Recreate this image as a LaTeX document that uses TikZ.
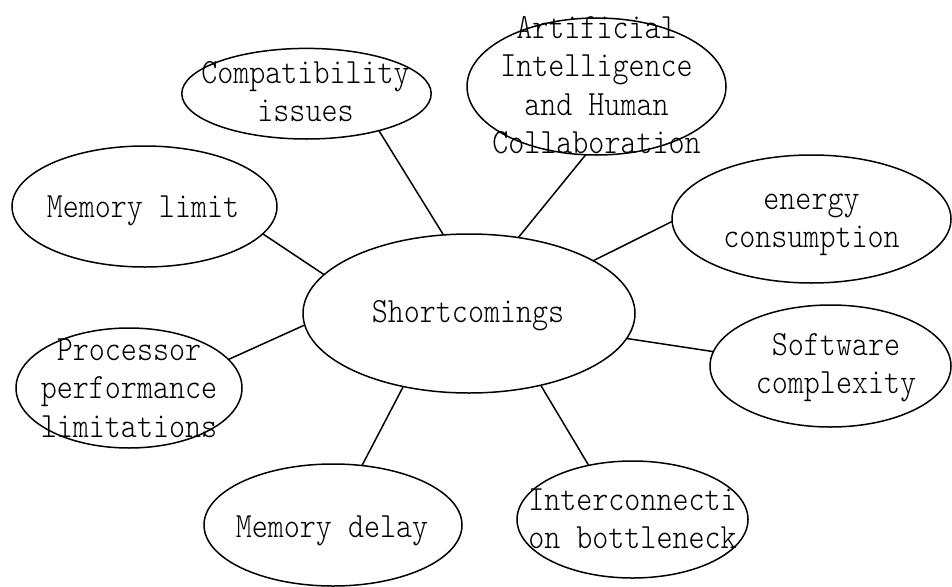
\documentclass[tikz,border=0pt]{standalone}
\usepackage{fontspec}
\usetikzlibrary{shapes.geometric}
% narrow, light monospaced face for the captions
\newfontfamily\labfont[FakeStretch=0.86]{lmmonolt10-regular.otf}
\begin{document}
\begin{tikzpicture}[x=1pt,y=-1pt,
  bubble/.style={ellipse, draw, line width=1.5pt, inner sep=0pt, outer sep=0pt},
  caption/.style={anchor=base, inner sep=0pt, font=\labfont\fontsize{35.5}{38.5}\selectfont},
  link/.style={line width=1.5pt}]
\useasboundingbox (0,0) rectangle (952,586);

% central topic
\node[bubble, minimum width=332pt, minimum height=159pt] (main) at (469,313.5) {};
\node[caption] (main-t) at (468,322) {Shortcomings};

% surrounding topics
\node[bubble, minimum width=249.4pt, minimum height=90.6pt] (compat) at (306.5,93.7) {};
\node[caption] (compat-t) at (305.5,83) {\begin{tabular}[t]{@{}c@{}}Compatibility\\issues\end{tabular}};

\node[bubble, minimum width=259pt, minimum height=137pt] (ai) at (596.5,86.5) {};
\node[caption] (ai-t) at (596.5,38) {\begin{tabular}[t]{@{}c@{}}Artificial\\Intelligence\\and Human\\Collaboration\end{tabular}};

\node[bubble, minimum width=265pt, minimum height=121pt] (mlimit) at (144.5,206.5) {};
\node[caption] (mlimit-t) at (143,217) {Memory limit};

\node[bubble, minimum width=279pt, minimum height=128pt] (energy) at (811.5,219) {};
\node[caption] (energy-t) at (811.5,209) {\begin{tabular}[t]{@{}c@{}}energy\\consumption\end{tabular}};

\node[bubble, minimum width=226pt, minimum height=120pt] (proc) at (129,388) {};
\node[caption] (proc-t) at (129,360) {\begin{tabular}[t]{@{}c@{}}Processor\\performance\\limitations\end{tabular}};

\node[bubble, minimum width=241pt, minimum height=122pt] (soft) at (830.5,366) {};
\node[caption] (soft-t) at (836,355) {\begin{tabular}[t]{@{}c@{}}Software\\complexity\end{tabular}};

\node[bubble, minimum width=258pt, minimum height=122pt] (mdelay) at (333,525) {};
\node[caption] (mdelay-t) at (332,537) {Memory delay};

\node[bubble, minimum width=231pt, minimum height=117pt] (inter) at (632.5,519.5) {};
\node[caption] (inter-t) at (632.5,510) {\begin{tabular}[t]{@{}c@{}}Interconnecti\\on bottleneck\end{tabular}};

% spokes to the central topic
\draw[link] (compat.-27.2) -- (main.108.8);
\draw[link] (ai.-99.7) -- (main.57.9);
\draw[link] (mlimit.-13.5) -- (main.165.6);
\draw[link] (energy.-179.2) -- (main.23);
\draw[link] (proc.16.9) -- (main.-176.7);
\draw[link] (soft.173.2) -- (main.-9.1);
\draw[link] (mdelay.64.6) -- (main.-132.7);
\draw[link] (inter.129.2) -- (main.-45.6);
\end{tikzpicture}
\end{document}
